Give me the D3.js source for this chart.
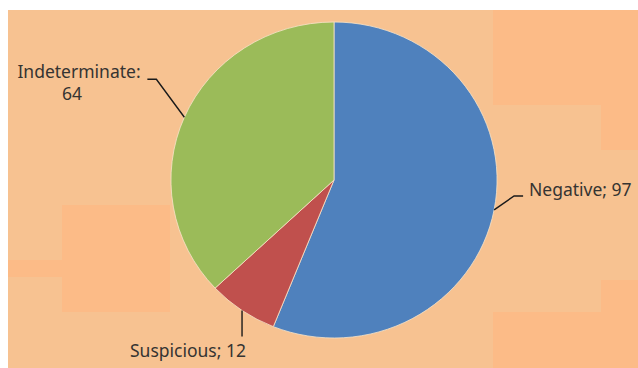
<!DOCTYPE html>
<html>
<head>
<meta charset="utf-8">
<script src="https://cdn.jsdelivr.net/npm/d3@7"></script>
<style>
  html, body { margin: 0; padding: 0; background: #fff; }
  svg { display: block; }
</style>
</head>
<body>
<div id="chart"></div>
<script>
// chart data
const categories = ['Negative', 'Suspicious', 'Indeterminate'];
const values = [97, 12, 64];
const labelTexts = [['Negative; 97'], ['Suspicious; 12'], ['Indeterminate:', '64']];
const colors = ['#4f81bd', '#c0504d', '#9bbb59'];

const width = 638;
const height = 368;
const cx = 334;
const cy = 180;
const radius = 158;
const stretchX = 1.032; // the source picture is slightly wider than tall

const svg = d3.select('#chart')
  .append('svg')
  .attr('width', width)
  .attr('height', height);

// plot area background
svg.append('rect')
  .attr('x', 8).attr('y', 10)
  .attr('width', width - 8).attr('height', height - 10)
  .attr('fill', '#f7c291');

// faint blocky patches seen in the source image
const patches = [
  [493, 10, 145, 95], [601, 105, 37, 45], [601, 280, 37, 32], [493, 312, 145, 56],
  [8, 260, 162, 17], [62, 205, 108, 107]
];
svg.append('g').selectAll('rect')
  .data(patches)
  .join('rect')
  .attr('x', d => d[0]).attr('y', d => d[1])
  .attr('width', d => d[2]).attr('height', d => d[3])
  .attr('fill', '#fcbb87');

const pie = d3.pie().sort(null).value(d => d.value);
const arcs = pie(categories.map((c, i) => ({ name: c, value: values[i], idx: i })));

const arc = d3.arc().innerRadius(0).outerRadius(radius);

const g = svg.append('g')
  .attr('transform', `translate(${cx},${cy}) scale(${stretchX},1)`);

g.selectAll('path')
  .data(arcs)
  .join('path')
  .attr('d', arc)
  .attr('fill', d => colors[d.data.idx])
  .attr('stroke', '#f6e3c8')
  .attr('stroke-width', 0.8);

// anchor point on the rim at the middle of each slice
function rimPoint(d) {
  const a = (d.startAngle + d.endAngle) / 2;
  return [cx + Math.sin(a) * radius * stretchX, cy - Math.cos(a) * radius];
}

// leader offsets relative to rim point, and label placement
const leaders = [
  { elbow: [20, -14], end: 29, text: [529, 196], anchor: 'start' },
  { elbow: [0, 26], end: 0, text: [188, 357], anchor: 'middle' },
  { elbow: [-28, -38], end: -37, text: [79, 78], anchor: 'middle' }
];

const labels = svg.append('g');

arcs.forEach((d, i) => {
  const p = rimPoint(d);
  const L = leaders[i];
  const e = [p[0] + L.elbow[0], p[1] + L.elbow[1]];
  const pts = [p, e, [p[0] + L.end, e[1]]];
  labels.append('path')
    .attr('d', d3.line()(pts))
    .attr('fill', 'none')
    .attr('stroke', '#1a1a1a')
    .attr('stroke-width', 1.4);

  const t = labels.append('text')
    .attr('x', L.text[0])
    .attr('y', L.text[1])
    .attr('text-anchor', L.anchor)
    .attr('font-family', 'Noto Sans, sans-serif')
    .attr('font-size', 17.5)
    .attr('fill', '#353432');
  labelTexts[i].forEach((s, k) => {
    t.append('tspan')
      .attr('x', k === 0 ? L.text[0] : 72)
      .attr('dy', k === 0 ? 0 : 22)
      .attr('text-anchor', k === 0 ? L.anchor : 'middle')
      .text(s);
  });
});
</script>
</body>
</html>
